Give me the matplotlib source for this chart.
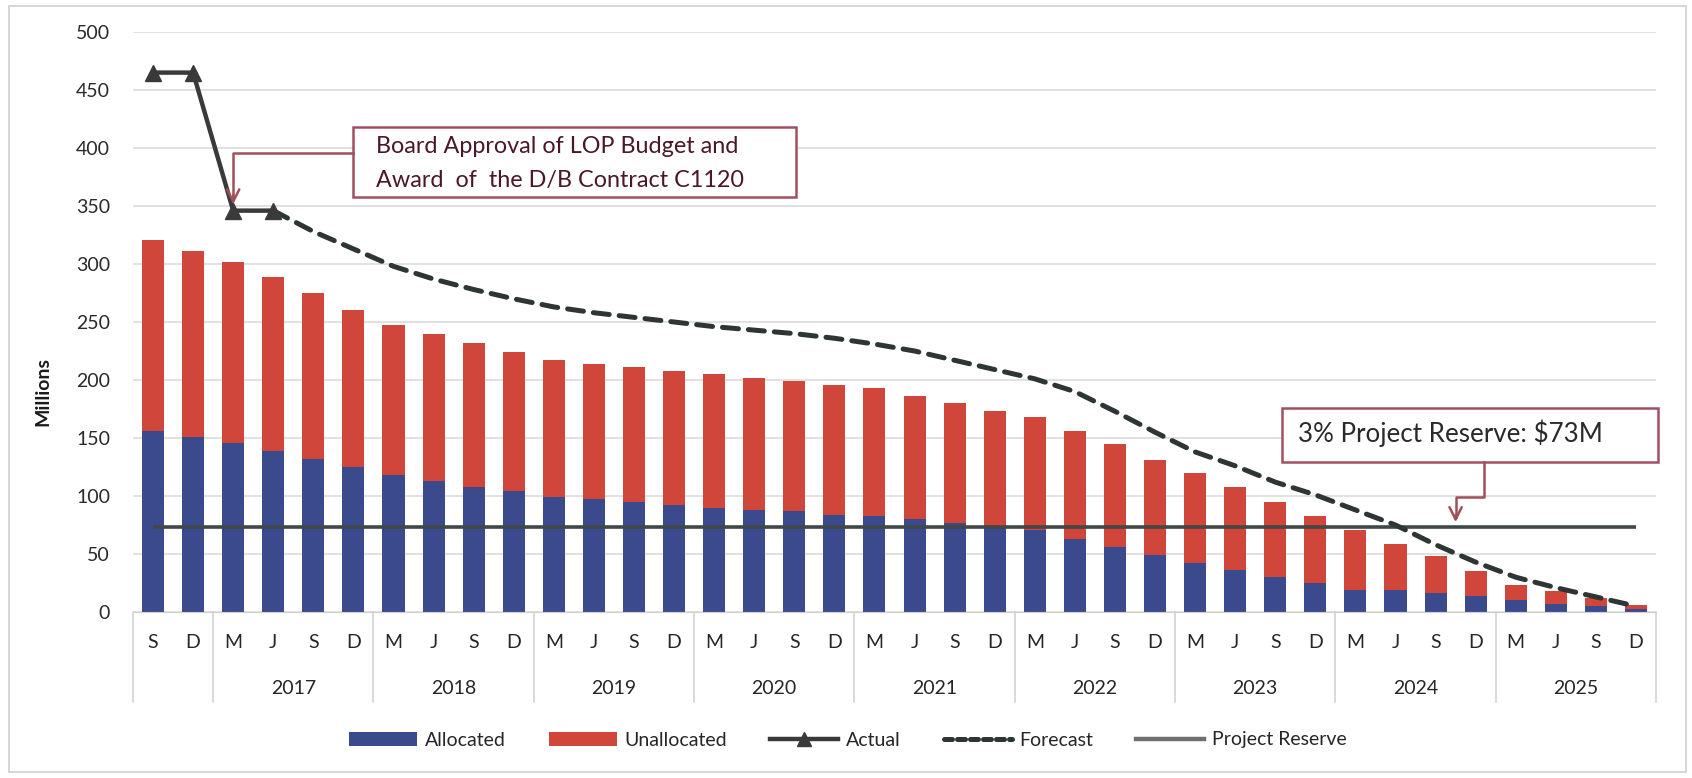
import matplotlib
matplotlib.use("Agg")
import matplotlib.pyplot as plt
from matplotlib.lines import Line2D
from matplotlib.patches import Patch, Rectangle
import numpy as np

plt.rcParams['font.family'] = ['Lato', 'DejaVu Sans']

# ---------------- data ----------------
quarters = ["S", "D"] + ["M", "J", "S", "D"] * 9
years = ["", "2017", "2018", "2019", "2020", "2021", "2022", "2023", "2024", "2025"]
allocated = [156, 151, 146, 139, 132, 125, 118, 113, 108, 104, 99, 97, 95, 92, 90, 88, 87, 84,
             83, 80, 77, 74, 71, 63, 56, 49, 42, 36, 30, 25, 19, 19, 16, 14, 10, 7, 5, 3]
unallocated = [165, 160, 156, 150, 143, 135, 129, 127, 124, 120, 118, 117, 116, 116, 115, 114, 112, 112,
               110, 106, 103, 99, 97, 93, 89, 82, 78, 72, 65, 58, 52, 40, 32, 21, 13, 11, 7, 3]
actual = [465, 465, 346, 346]                # first four categories
forecast = [346, 328, 313, 298, 287, 278, 270, 263, 258, 254, 250, 246, 243, 240, 236, 231, 225, 217,
            209, 201, 190, 173, 155, 138, 126, 112, 101, 88, 75, 58, 43, 30, 21, 13, 5]  # from category 3
forecast_start = 3
reserve_value = 73

# ---------------- figure ----------------
W, H = 1692, 778
fig = plt.figure(figsize=(W / 100, H / 100), dpi=100)
ax = fig.add_axes([133 / W, 1 - 612 / H, (1656 - 133) / W, (612 - 32) / H])
axw, axh = 1656 - 133, 612 - 32

n = len(quarters)
x = np.arange(n)
c_alloc = "#3b4a8c"
c_unal = "#d1463a"

ax.bar(x, allocated, width=0.55, color=c_alloc, zorder=2)
ax.bar(x, unallocated, width=0.55, bottom=allocated, color=c_unal, zorder=2)

reserve = [reserve_value] * n
ax.plot(x, reserve, color="#404848", lw=2.6, zorder=3, solid_capstyle="butt")

ax.plot(x[:len(actual)], actual, color="#3a3a3a", lw=3.2, marker="^", markersize=11,
        zorder=5)
xf = x[forecast_start:forecast_start + len(forecast)]
ax.plot(xf, forecast, color="#2e3535", lw=3.6, linestyle=(0, (3.2, 2.0)),
        dash_capstyle="round", zorder=4)

ax.set_xlim(-0.5, n - 0.5)
ax.set_ylim(0, 500)
ax.set_yticks(range(0, 501, 50))
ax.yaxis.grid(True, color="#d9d9d9", lw=1.1, zorder=0)
ax.set_axisbelow(True)
for s in ["top", "right", "left"]:
    ax.spines[s].set_visible(False)
ax.spines["bottom"].set_color("#d0d0d0")
ax.tick_params(axis="y", length=0, pad=16.5, labelsize=14, labelcolor="#2a2a2a")
ax.set_xticks([])
ax.set_ylabel("Millions", fontsize=14, fontweight="bold", color="#1a1a1a")
ax.yaxis.set_label_coords((51 - 133) / axw, (612 - 392) / axh)

# category axis (two level)
trans = ax.get_xaxis_transform()
for i, q in enumerate(quarters):
    ax.text(i, -30 / axh, q, transform=trans, ha="center", va="center", fontsize=14,
            color="#262626")
bounds = [-0.5, 1.5] + [1.5 + 4 * k for k in range(1, 10)]
for b in bounds:
    ax.plot([b, b], [0, -90 / axh], transform=trans, color="#d0d0d0", lw=1.1, clip_on=False)
for k, yr in enumerate(years):
    if yr:
        c = 1.5 + 4 * (k - 1) + 2
        ax.text(c, -76 / axh, yr, transform=trans, ha="center", va="center", fontsize=14,
                color="#262626")

# annotation 1
c_box = "#a24f62"
ax.add_patch(Rectangle((5.0, 358), 11.03, 60, facecolor="white", edgecolor=c_box, lw=1.8,
                       zorder=6, clip_on=False))
t1 = ax.text(5.56, 401, "Board Approval of LOP Budget and", fontsize=16, color="#4a1828",
             va="center", ha="left", zorder=7)
t2 = ax.text(5.56, 372, "Award  of  the D/B Contract C1120", fontsize=16, color="#4a1828",
             va="center", ha="left", zorder=7)
ax.plot([5.0, 2.0, 2.0], [396, 396, 356], color="#a0505a", lw=1.8, zorder=6)
ax.annotate("", xy=(2.0, 349), xytext=(2.0, 362),
            arrowprops=dict(arrowstyle="->", color="#a0505a", lw=1.8, mutation_scale=22), zorder=6)

# annotation 2
ax.add_patch(Rectangle((28.18, 129), 9.38, 47, facecolor="white", edgecolor=c_box, lw=1.8,
                       zorder=6, clip_on=False))
t3 = ax.text(28.58, 154, "3% Project Reserve: $73M", fontsize=16, color="#2a2a2a",
             va="center", ha="left", zorder=7)
ax.plot([33.2, 33.2, 32.5, 32.5], [129, 99, 99, 82], color="#a0505a", lw=1.8, zorder=6)
ax.annotate("", xy=(32.5, 75), xytext=(32.5, 86),
            arrowprops=dict(arrowstyle="->", color="#a0505a", lw=1.8, mutation_scale=22), zorder=6)

# fit annotation text widths to the reference
fig.canvas.draw()
r = fig.canvas.get_renderer()
for t, target in [(t1, 365), (t3, 305)]:
    w = t.get_window_extent(r).width
    t.set_fontsize(t.get_fontsize() * target / w)
t2.set_fontsize(t1.get_fontsize())

# legend
handles = [
    Patch(facecolor=c_alloc, edgecolor="none", label="Allocated"),
    Patch(facecolor=c_unal, edgecolor="none", label="Unallocated"),
    Line2D([0], [0], color="#3a3a3a", lw=3.2, marker="^", markersize=10, label="Actual"),
    Line2D([0], [0], color="#2e3535", lw=3.6, linestyle=(0, (1.6, 1.0)), dash_capstyle="round",
           label="Forecast"),
    Line2D([0], [0], color="#707070", lw=3.2, label="Project Reserve"),
]
fig.legend(handles=handles, loc="center", bbox_to_anchor=(848 / W, 1 - 740 / H), ncol=5,
           frameon=False, fontsize=14, handlelength=3.5, columnspacing=2.2, handletextpad=0.4,
           labelcolor="#262626")

# outer border
fig.add_artist(Rectangle((9 / W, 6 / H), (1686 - 9) / W, (772 - 6) / H, transform=fig.transFigure,
                         facecolor="none", edgecolor="#d0d0d0", lw=1.2))

fig.savefig("out.png", dpi=100)
